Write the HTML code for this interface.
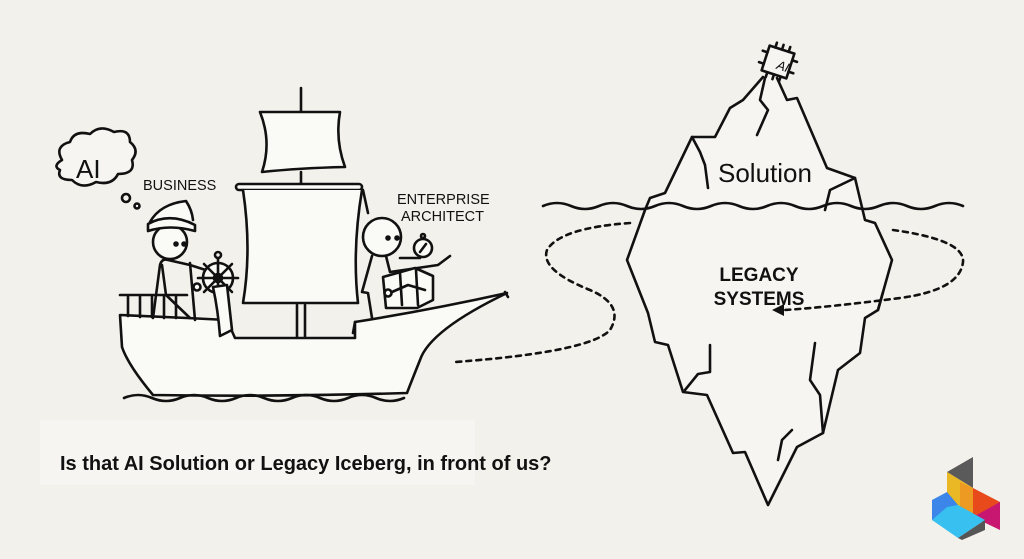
<!DOCTYPE html>
<html><head><meta charset="utf-8"><style>
html,body{margin:0;padding:0;background:#f3f1eb;}
svg{display:block;}
text{font-family:"Liberation Sans","DejaVu Sans",sans-serif;fill:#111;}
</style></head><body>
<svg width="1024" height="559" viewBox="0 0 1024 559" xmlns="http://www.w3.org/2000/svg">
<rect width="1024" height="559" fill="#f3f1eb"/>
<rect x="40" y="420" width="435" height="65" fill="#f6f5f1"/>
<g fill="none" stroke="#111" stroke-width="2.6" stroke-linejoin="round" stroke-linecap="round">
<!-- cloud -->
<path d="M62,160 q-8,-14 8,-18 q4,-12 20,-8 q10,-10 24,-2 q16,-4 16,10 q10,8 2,18 q4,14 -14,14 q-6,12 -22,8 q-14,8 -24,-2 q-16,0 -12,-10 q-8,-4 2,-10z" fill="#f6f5f1"/>
<circle cx="126" cy="198" r="4"/><circle cx="137" cy="206" r="2.5"/>
<!-- mast -->
<line x1="301" y1="88" x2="301" y2="112"/>
<line x1="297" y1="305" x2="297" y2="338"/><line x1="305" y1="305" x2="305" y2="338"/>
<!-- top sail -->
<path d="M260,112 L340,112 Q335,140 345,167 Q300,168 262,172 Q272,142 260,112z" fill="#fafaf6"/>
<line x1="301" y1="172" x2="301" y2="186"/>
<!-- yard -->
<rect x="236" y="184" width="126" height="6" rx="3" fill="#fafaf6"/>
<!-- main sail -->
<path d="M243,190 Q252,250 243,303 L358,303 Q352,250 362,190" fill="#fafaf6"/>
<path d="M363,190 L368,213"/>
<!-- hull -->
<path d="M120,315 L187,318 L227,320 L235,338 L355,338 L355,322 Q430,310 507,293 Q430,330 420,360 Q410,385 407,393 Q280,397 153,395 Q128,365 122,347z" fill="#fafaf6"/>
<path d="M355,322 L353,333"/>
<path d="M505,292 L508,297"/>
<!-- railing -->
<path d="M120,295 L187,295 M128,295 L128,316 M140,295 L140,317 M152,295 L152,317 M164,295 L164,318 M176,295 L176,318"/>
<!-- waves -->
<path d="M124,398 q14,-6 28,0 t28,0 t28,0 t28,0 t28,0 t28,0 t28,0 t28,0 t28,0 t28,0"/>
<!-- captain -->
<path d="M153,318 L160,265 Q162,258 168,260 L190,265 L212,272"/>
<path d="M162,265 L166,295 L190,318"/>
<path d="M190,263 L195,320"/>
<circle cx="170" cy="242" r="17" fill="#fafaf6"/>
<path d="M148,224 Q170,212 195,225 L195,231 Q170,224 148,231z M150,222 Q160,204 186,201 Q192,210 193,220" fill="#fafaf6"/>
<circle cx="176" cy="244" r="1.5" fill="#111"/><circle cx="184" cy="244" r="1.5" fill="#111"/>
<!-- wheel -->
<circle cx="218" cy="278" r="15" fill="#fafaf6"/><circle cx="218" cy="278" r="4"/>
<path d="M218,258 L218,298 M198,278 L238,278 M204,264 L232,292 M232,264 L204,292"/>
<circle cx="218" cy="255" r="3"/>
<path d="M213,287 L227,285 L232,330 L220,336 Q218,310 213,287z" fill="#fafaf6"/>
<circle cx="197" cy="287" r="3.5" fill="#fafaf6"/>
<!-- architect -->
<circle cx="382" cy="237" r="19" fill="#fafaf6"/>
<circle cx="388" cy="238" r="1.5" fill="#111"/><circle cx="397" cy="238" r="1.5" fill="#111"/>
<path d="M372,256 L362,292 L368,293 L372,318 M386,256 L390,272 L438,265 L450,256 M400,258 L420,258"/>
<path d="M383,277 L415,268 L433,276 L433,300 L417,308 L386,308z" fill="#fafaf6"/>
<path d="M400,273 L402,305 M416,270 L418,305 M392,292 L408,285 L425,290"/>
<circle cx="388" cy="293" r="3.5" fill="#fafaf6"/>
<circle cx="423" cy="248" r="9" fill="#fafaf6"/><circle cx="423" cy="236" r="2"/>
<path d="M420,252 L426,244"/>
<!-- iceberg -->
<path d="M763,77 L743,100 L730,108 L715,137 L692,137 L665,193 L650,198 L645,210 L627,260 L648,313 L655,342 L668,345 L683,392 L707,395 L733,453 L745,452 L768,505 L797,447 L823,433 L838,370 L860,353 L865,318 L878,310 L892,260 L875,223 L865,220 L855,178 L827,168 L797,98 L787,100 L777,78" fill="#f6f5f1"/>
<path d="M692,137 L700,152 L705,165 L708,188"/>
<path d="M765,78 L760,100 L768,110 L757,135"/>
<path d="M855,178 L830,190 L825,210"/>
<path d="M710,345 L710,372 L698,374 L685,390"/>
<path d="M815,343 L810,380 L820,395 L823,433"/>
<path d="M792,430 L782,440 L778,460"/>
<path d="M878,310 L883,292"/>
<!-- chip -->
<g transform="translate(778,62) rotate(18)">
<rect x="-13" y="-13" width="26" height="26" fill="#f6f5f1"/>
<path d="M-7,-13 L-7,-18 M0,-13 L0,-18 M7,-13 L7,-18 M-7,13 L-7,18 M0,13 L0,18 M7,13 L7,18 M-13,-6 L-18,-6 M-13,6 L-18,6 M13,-6 L18,-6 M13,6 L18,6"/>
</g>
<!-- water line -->
<path d="M543,206 q14,-6 28,0 t28,0 t28,0 t28,0 t28,0 t28,0 t28,0 t28,0 t28,0 t28,0 t28,0 t28,0 t28,0 t28,0 t28,0"/>
<!-- dashed loop -->
<g stroke-dasharray="5,5" stroke-width="2.6">
<path d="M630,223 Q560,228 547,250 Q540,270 590,290 Q625,305 610,330 Q590,352 455,362"/>
<path d="M893,230 Q965,240 963,262 Q960,290 900,298 Q830,307 785,310"/>
</g>
</g>
<path d="M772,310 L784,304 L784,316z" fill="#111"/>
<text x="76" y="178" font-size="26">AI</text>
<text x="784" y="69" font-size="13" font-style="italic" transform="rotate(18 778 62)" text-anchor="middle">AI</text>
<text x="143" y="190" font-size="14.5">BUSINESS</text>
<text x="397" y="204" font-size="14.5">ENTERPRISE</text>
<text x="401" y="221" font-size="14.5">ARCHITECT</text>
<text x="718" y="182" font-size="26">Solution</text>
<text x="759" y="281" font-size="19" font-weight="bold" text-anchor="middle">LEGACY</text>
<text x="759" y="305" font-size="19" font-weight="bold" text-anchor="middle">SYSTEMS</text>
<text x="60" y="470" font-size="20" font-weight="bold">Is that AI Solution or Legacy Iceberg, in front of us?</text>
<!-- logo -->
<polygon points="947,472 973,457 973,488" fill="#5a5a5a"/>
<polygon points="947,472 973,488 973,517 947,502" fill="#e9b824"/>
<polygon points="960,482 973,488 973,517 960,510" fill="#ec9a22"/>
<polygon points="973,488 1000,502 1000,510 973,517" fill="#e84a1c"/>
<polygon points="973,517 1000,502 1000,530" fill="#c81770"/>
<polygon points="932,500 947,492 958,505 958,533 932,520" fill="#3b86e8"/>
<polygon points="947,507 958,505 985,520 958,538 932,520" fill="#38c0f0"/>
<polygon points="958,538 985,520 985,530 962,540" fill="#555"/>
</svg>
</body></html>
